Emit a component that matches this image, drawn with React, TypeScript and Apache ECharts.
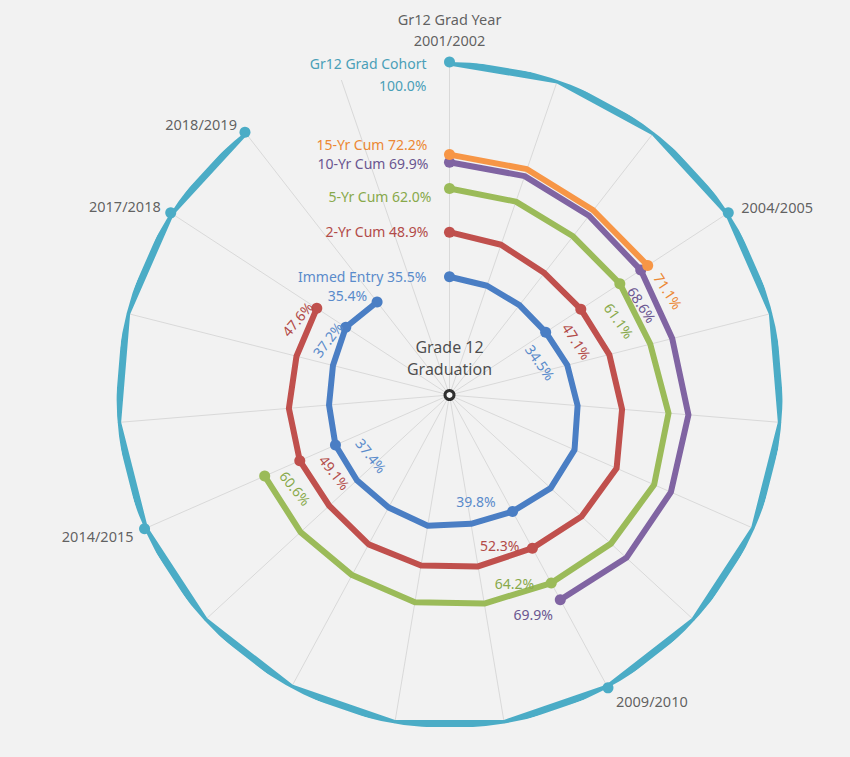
import React, { useEffect, useRef } from 'react';
import * as echarts from 'echarts';

// ---------- DATA ----------
const categories = [
  '2001/2002', '2002/2003', '2003/2004', '2004/2005', '2005/2006', '2006/2007',
  '2007/2008', '2008/2009', '2009/2010', '2010/2011', '2011/2012', '2012/2013',
  '2013/2014', '2014/2015', '2015/2016', '2016/2017', '2017/2018', '2018/2019', '2019/2020',
];

const gradCohort = [100, 100, 100, 100, 100, 100, 100, 100, 100, 100, 100, 100, 100, 100, 100, 100, 100, 100];
const cum15 = [72.2, 71.7, 70.3, 71.1];
const cum10 = [69.9, 69.5, 68.2, 68.6, 69.0, 72.0, 72.6, 72.2, 69.9];
const cum5 = [62.0, 61.4, 60.4, 61.1, 62.2, 66.0, 67.1, 65.9, 64.2, 63.5, 63.1, 61.5, 60.8, 60.6];
const cum2 = [48.9, 47.7, 46.4, 47.1, 49.5, 52.0, 54.8, 53.9, 52.3, 52.2, 51.9, 51.0, 49.1, 49.1, 48.4, 47.4, 47.6];
const immedEntry = [35.5, 34.7, 34.2, 34.5, 36.5, 38.6, 41.0, 41.3, 39.8, 39.2, 39.8, 38.4, 37.8, 37.4, 36.3, 36.1, 37.2, 35.4];

const yearLabelIndexes = [0, 3, 8, 13, 16, 17];
const axisTitle = 'Gr12 Grad Year';
const centerTitle = 'Grade 12\nGraduation';

// ---------- STYLE ----------
const FONT = '"Noto Sans", "Open Sans", sans-serif';
const LABEL_SIZE = 14;

type Spec = { full?: boolean; sep?: string; align?: string; rotate?: number; offset?: number[]; noLabel?: boolean };

const seriesDefs: Array<{
  name: string; values: number[]; color: string; labelColor: string; width: number; z: number;
  specs: Record<number, Spec>;
}> = [
  {
    name: 'Gr12 Grad Cohort', values: gradCohort, color: '#4BACC6', labelColor: '#4A9FB8', width: 7, z: 2,
    specs: {
      0: { full: true, sep: '\n', align: 'right', offset: [-23, 12] },
      3: { noLabel: true }, 8: { noLabel: true }, 13: { noLabel: true }, 16: { noLabel: true }, 17: { noLabel: true },
    },
  },
  {
    name: 'Immed Entry', values: immedEntry, color: '#4A7EC4', labelColor: '#5A8BCB', width: 6, z: 3,
    specs: {
      0: { full: true, align: 'right', offset: [-23, 0] },
      3: { align: 'left', rotate: -55, offset: [2, 22] },
      8: { align: 'right', offset: [-17, -10] },
      13: { align: 'left', rotate: -51, offset: [11, -21] },
      16: { align: 'right', rotate: 53, offset: [-1, -7] },
      17: { align: 'right', offset: [-10, -6] },
    },
  },
  {
    name: '2-Yr Cum', values: cum2, color: '#C0504D', labelColor: '#B24B48', width: 6, z: 4,
    specs: {
      0: { full: true, align: 'right', offset: [-21, -1] },
      3: { align: 'left', rotate: -57, offset: [5, 21] },
      8: { align: 'right', offset: [-13, -3] },
      13: { align: 'left', rotate: -52, offset: [11, -20] },
      16: { align: 'right', rotate: 50, offset: [-1, -8] },
    },
  },
  {
    name: '5-Yr Cum', values: cum5, color: '#9BBB59', labelColor: '#88A94B', width: 6, z: 5,
    specs: {
      0: { full: true, align: 'right', offset: [-18, 8] },
      3: { align: 'left', rotate: -55, offset: [10, 22] },
      8: { align: 'right', offset: [-17, 0] },
      13: { align: 'left', rotate: -51, offset: [9, -16] },
    },
  },
  {
    name: '10-Yr Cum', values: cum10, color: '#8064A2', labelColor: '#6A5690', width: 6, z: 6,
    specs: {
      0: { full: true, align: 'right', offset: [-21, 1.5] },
      3: { align: 'left', rotate: -57, offset: [10, 18] },
      8: { align: 'center', offset: [-27, 15] },
    },
  },
  {
    name: '15-Yr Cum', values: cum15, color: '#F79646', labelColor: '#EC8834', width: 6, z: 7,
    specs: {
      0: { full: true, align: 'right', offset: [-22, -10.5] },
      3: { align: 'left', rotate: -57, offset: [13, -3] },
    },
  },
];

const yearLabelSpecs: Record<number, Spec> = {
  0: { align: 'center', offset: [0, -33] },
  3: { align: 'left', offset: [13, -6] },
  8: { align: 'left', offset: [8, 13] },
  13: { align: 'right', offset: [-11, 7] },
  16: { align: 'right', offset: [-10, -7] },
  17: { align: 'right', offset: [-8, -8] },
};

const pct = (v: number) => v.toFixed(1) + '%';

function buildLineSeries(def: (typeof seriesDefs)[number]) {
  const data = categories.map((_, i) => {
    const v = def.values[i];
    if (v === undefined) return '-';
    const spec = def.specs[i];
    if (!spec) return v;
    const text = spec.full ? def.name + (spec.sep ?? ' ') + pct(v) : pct(v);
    const multiLine = text.indexOf('\n') >= 0;
    return {
      value: v,
      symbol: 'circle',
      symbolSize: 11,
      label: spec.noLabel
        ? { show: false }
        : {
            show: true,
            formatter: text,
            position: 'inside',
            align: spec.align,
            verticalAlign: 'middle',
            rotate: spec.rotate ?? 0,
            offset: spec.offset,
            color: def.labelColor,
            fontFamily: FONT,
            fontSize: LABEL_SIZE,
            lineHeight: multiLine ? 22 : 16,
            textBorderWidth: 0,
            textBorderColor: 'transparent',
          },
    };
  });
  return {
    type: 'line',
    name: def.name,
    coordinateSystem: 'polar',
    data,
    symbol: 'none',
    showSymbol: true,
    connectNulls: false,
    clip: false,
    z: def.z,
    lineStyle: { color: def.color, width: def.width, cap: 'round', join: 'round' },
    itemStyle: { color: def.color },
    label: { show: false },
    emphasis: { disabled: true },
    silent: true,
  };
}

const yearLabelSeries = {
  type: 'scatter',
  coordinateSystem: 'polar',
  clip: false,
  silent: true,
  z: 10,
  symbol: 'circle',
  symbolSize: 1,
  itemStyle: { color: 'rgba(0,0,0,0)' },
  data: yearLabelIndexes.map((i) => {
    const spec = yearLabelSpecs[i];
    return {
      value: [gradCohort[i], i],
      label: {
        show: true,
        formatter: i === 0 ? axisTitle + '\n' + categories[i] : categories[i],
        position: 'inside',
        align: spec.align,
        verticalAlign: 'middle',
        offset: spec.offset,
        color: '#3a3a3a',
        fontFamily: FONT,
        fontSize: 14.5,
        lineHeight: 21,
        textBorderWidth: 0,
        textBorderColor: 'transparent',
      },
    };
  }),
};

const centerSeries = {
  type: 'scatter',
  coordinateSystem: 'polar',
  clip: false,
  silent: true,
  z: 11,
  data: [
    {
      value: [0, 0],
      symbol: 'circle',
      symbolSize: 9,
      itemStyle: { color: '#ffffff', borderColor: '#000000', borderWidth: 3 },
      label: {
        show: true,
        formatter: centerTitle,
        position: 'top',
        distance: 9,
        color: '#1f1f1f',
        fontFamily: FONT,
        fontSize: 16,
        lineHeight: 22,
        align: 'center',
      },
    },
  ],
};

const option = {
  animation: false,
  backgroundColor: '#f2f2f2',
  polar: { center: [449.5, 395], radius: 333 },
  angleAxis: {
    type: 'category',
    data: categories,
    boundaryGap: false,
    startAngle: 90,
    clockwise: true,
    axisLine: { show: false },
    axisTick: { show: false, interval: 0 },
    axisLabel: { show: false, interval: 0 },
    splitLine: { show: true, interval: 0, lineStyle: { color: '#d9d9d9', width: 1 } },
    splitArea: { show: false },
  },
  radiusAxis: {
    type: 'value',
    min: 0,
    max: 100,
    axisLine: { show: false },
    axisTick: { show: false },
    axisLabel: { show: false },
    splitLine: { show: false },
  },
  series: [...seriesDefs.map(buildLineSeries), yearLabelSeries, centerSeries],
};

export default function App() {
  const ref = useRef<HTMLDivElement>(null);
  useEffect(() => {
    const chart = echarts.init(ref.current as HTMLDivElement, null, { renderer: 'svg' });
    chart.setOption(option as any);
    return () => chart.dispose();
  }, []);
  return (
    <div
      ref={ref}
      style={{ position: 'absolute', left: 0, top: 0, width: 850, height: 757 }}
    />
  );
}
